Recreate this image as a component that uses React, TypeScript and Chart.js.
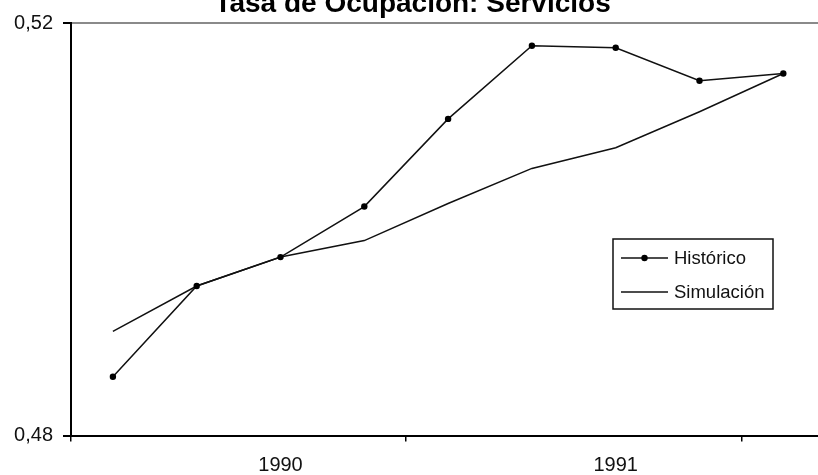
import React, { useEffect, useRef } from 'react';
import { Chart, registerables } from 'chart.js';

Chart.register(...registerables);

const chartTitle = 'Tasa de Ocupación: Servicios';
const quarters = ['1990 T1', '1990 T2', '1990 T3', '1990 T4', '1991 T1', '1991 T2', '1991 T3', '1991 T4', '1992 T1'];
const historico = [0.4857, 0.4945, 0.4973, 0.5022, 0.5107, 0.5178, 0.5176, 0.5144, 0.5151];
const simulacion = [0.4901, 0.4945, 0.4973, 0.4989, 0.5025, 0.5059, 0.5079, 0.5114, 0.5151];
const yTicks = [0.48, 0.52];
const seriesNames = ['Histórico', 'Simulación'];

const FONT = "'Liberation Sans', Arial, sans-serif";
const SHIFT = 20;
const CW = 832;
const CH = 475 + SHIFT;

const boxLegend = {
  id: 'boxLegend',
  afterDraw(chart: any) {
    const { ctx } = chart;
    const x0 = 613, y0 = 239 + SHIFT, w = 160, h = 70;
    ctx.save();
    ctx.fillStyle = '#fff';
    ctx.fillRect(x0, y0, w, h);
    ctx.strokeStyle = '#111';
    ctx.lineWidth = 1.5;
    ctx.strokeRect(x0, y0, w, h);
    const rows = [y0 + 19, y0 + 53];
    chart.data.datasets.forEach((ds: any, i: number) => {
      const y = rows[i];
      ctx.strokeStyle = ds.borderColor;
      ctx.lineWidth = ds.borderWidth;
      ctx.beginPath();
      ctx.moveTo(x0 + 8, y);
      ctx.lineTo(x0 + 55, y);
      ctx.stroke();
      if (ds.pointRadius > 0) {
        ctx.fillStyle = ds.pointBackgroundColor;
        ctx.beginPath();
        ctx.arc(x0 + 31.5, y, ds.pointRadius, 0, Math.PI * 2);
        ctx.fill();
      }
      ctx.fillStyle = '#111';
      ctx.font = `18.5px ${FONT}`;
      ctx.textBaseline = 'middle';
      ctx.textAlign = 'left';
      ctx.fillText(ds.label, x0 + 61, y + 1);
    });
    ctx.restore();
  },
};

export default function App() {
  const ref = useRef<HTMLCanvasElement>(null);
  useEffect(() => {
    if (!ref.current) return;
    const chart = new Chart(ref.current, {
      type: 'line',
      data: {
        labels: quarters,
        datasets: [
          {
            label: seriesNames[0],
            data: historico,
            borderColor: '#111',
            borderWidth: 1.5,
            pointRadius: 3.2,
            pointBackgroundColor: '#000',
            pointBorderColor: '#000',
            pointBorderWidth: 0,
            tension: 0,
          },
          {
            label: seriesNames[1],
            data: simulacion,
            borderColor: '#111',
            borderWidth: 1.5,
            pointRadius: 0,
            pointBackgroundColor: '#000',
            tension: 0,
          },
        ],
      },
      options: {
        animation: false,
        responsive: false,
        devicePixelRatio: 1,
        layout: { padding: { left: 0, right: 6.8, top: 0, bottom: 0 } },
        plugins: {
          legend: { display: false },
          tooltip: { enabled: false },
          title: {
            display: true,
            text: chartTitle,
            color: '#000',
            font: { family: FONT, size: 28, weight: 'bold', lineHeight: 1.2 },
            padding: { top: 7.4, bottom: 2 },
          },
        },
        scales: {
          x: {
            type: 'category',
            offset: true,
            afterFit(scale: any) {
              scale.height = 39.5;
            },
            grid: {
              offset: true,
              drawOnChartArea: false,
              drawTicks: true,
              tickLength: 6,
              color: (c: any) => (c.index % 4 === 0 && c.index < quarters.length ? '#000' : 'rgba(0,0,0,0)'),
              lineWidth: 1.5,
            },
            border: { display: true, color: '#000', width: 2 },
            ticks: {
              autoSkip: false,
              maxRotation: 0,
              padding: 12,
              color: '#111',
              font: { family: FONT, size: 20 },
              callback: (_v: any, i: number) => (i % 4 === 2 ? quarters[i].slice(0, 4) : ''),
            },
          },
          y: {
            min: yTicks[0],
            max: yTicks[yTicks.length - 1],
            afterFit(scale: any) {
              scale.width = 71;
            },
            afterBuildTicks(scale: any) {
              scale.ticks = yTicks.map((v) => ({ value: v }));
            },
            grid: {
              drawOnChartArea: true,
              drawTicks: true,
              tickLength: 8,
              tickColor: '#000',
              color: (c: any) => (c.tick && c.tick.value === yTicks[yTicks.length - 1] ? '#8a8a8a' : 'rgba(0,0,0,0)'),
              lineWidth: 2,
            },
            border: { display: true, color: '#000', width: 2 },
            ticks: {
              padding: 10,
              color: '#111',
              font: { family: FONT, size: 20 },
              callback: (v: any) => Number(v).toFixed(2).replace('.', ','),
            },
          },
        },
      },
      plugins: [boxLegend],
    });
    return () => chart.destroy();
  }, []);

  return (
    <div style={{ position: 'fixed', left: 0, top: 0, width: 818, height: 475, overflow: 'hidden', background: '#fff' }}>
      <canvas
        ref={ref}
        width={CW}
        height={CH}
        style={{ position: 'absolute', left: 0, top: -SHIFT, width: CW, height: CH }}
      />
    </div>
  );
}
